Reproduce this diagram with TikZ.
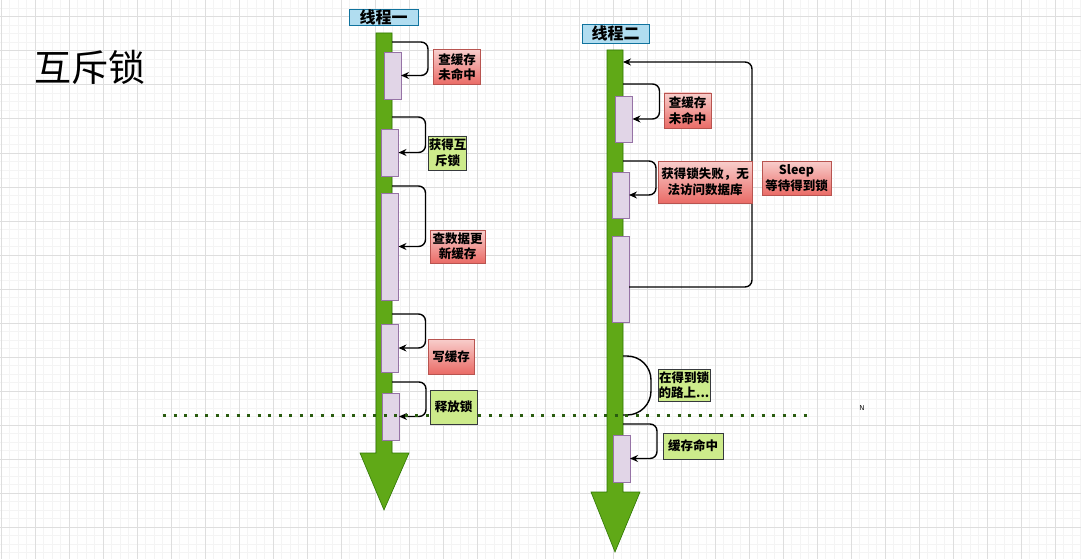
\documentclass[tikz,border=0pt]{standalone}
\usepackage{fontspec}
\newfontfamily\cjk{Noto Sans CJK SC}
\usetikzlibrary{arrows.meta}
\definecolor{gridmaj}{rgb}{0.87,0.87,0.87}
\definecolor{gridmin}{rgb}{0.955,0.955,0.955}
\definecolor{barfill}{HTML}{60A917}
\definecolor{barline}{HTML}{2D7600}
\definecolor{actfill}{HTML}{E1D5E7}
\definecolor{actline}{HTML}{9673A6}
\definecolor{redtop}{HTML}{F8CECC}
\definecolor{redbot}{HTML}{EA6B66}
\definecolor{redline}{HTML}{B85450}
\definecolor{greenfill}{HTML}{CDEB8B}
\definecolor{greenline}{HTML}{36393D}
\definecolor{bluefill}{HTML}{B1DDF0}
\definecolor{blueline}{HTML}{10739E}
\definecolor{sepcol}{HTML}{2A5C10}

\begin{document}
\begin{tikzpicture}[x=1pt,y=-1pt,>={Stealth[length=8pt,width=7pt]},
    bar/.style={fill=barfill,draw=barline,line width=0.6pt},
    act/.style={draw=actline,fill=actfill,line width=0.8pt,minimum width=17pt,inner sep=0pt,outer sep=0pt},
    note/.style={font=\cjk\bfseries\fontsize{12.5}{15.5}\selectfont,align=center,inner sep=0pt,outer sep=0pt,line width=0.8pt},
    redbox/.style={note,draw=redline,top color=redtop,bottom color=redbot},
    greenbox/.style={note,draw=greenline,fill=greenfill},
    thread/.style={draw=blueline,fill=bluefill,font=\cjk\bfseries\fontsize{16}{16}\selectfont,inner sep=0pt,outer sep=0pt,line width=0.8pt},
    call/.style={->,line width=1.4pt,rounded corners=7pt},
    onway/.style={line width=1.4pt,rounded corners=24pt},
    sep/.style={draw=sepcol,line width=3pt,dash pattern=on 3pt off 7.5pt}
  ]
    \useasboundingbox[fill=white] (0,0) rectangle (1081,559);
    % grid
    \foreach \i in {0,...,127}{
      \draw[gridmin] ({1+\i*8.5},0) -- ({1+\i*8.5},559);
    }
    \foreach \i in {0,...,65}{
      \draw[gridmin] (0,{8.2+\i*8.5}) -- (1081,{8.2+\i*8.5});
    }
    \foreach \i in {0,...,31}{
      \draw[gridmaj] ({1+\i*34},0) -- ({1+\i*34},559);
    }
    \foreach \i in {0,...,15}{
      \draw[gridmaj] (0,{16.7+\i*34}) -- (1081,{16.7+\i*34});
    }

    \node[font=\cjk\fontsize{37}{42}\selectfont] (title) at (90,67) {互斥锁};

    % thread one
    \node[thread,minimum width=69pt,minimum height=16pt] (t1) at (383.5,17) {线程一};
    \path[bar] (376,33) --++ (16,0) --++ (0,420) --++ (17,0) --++ (-25,57) --++ (-24,-57) --++ (16,0) -- cycle;
    \node[act,minimum height=47pt] (a1) at (392.5,75.5) {};
    \node[act,minimum height=47pt] (a2) at (390,152.5) {};
    \node[act,minimum height=107pt] (a3) at (390,246.5) {};
    \node[act,minimum height=48pt] (a4) at (390,348) {};
    \node[act,minimum height=47pt] (a5) at (390.5,416.5) {};
    \coordinate (s1) at (392,42);
    \coordinate (s2) at (392,117);
    \coordinate (s3) at (392,186);
    \coordinate (s4) at (392,314);
    \coordinate (s5) at (392,382);
    \foreach \k in {1,...,5}{
      \draw[call] (s\k) -| ([xshift=27pt]a\k.east) -- (a\k.east);
    }

    % thread two
    \node[thread,minimum width=67pt,minimum height=19pt] (t2) at (615.5,33.5) {线程二};
    \path[bar] (607,50) --++ (16,0) --++ (0,442) --++ (17,0) --++ (-25,60) --++ (-24,-60) --++ (16,0) -- cycle;
    \node[act,minimum height=46pt] (b1) at (624,119) {};
    \node[act,minimum height=46pt] (b2) at (620.5,195) {};
    \node[act,minimum height=86pt] (b3) at (620.5,279) {};
    \node[act,minimum height=47pt] (b4) at (621.5,458.5) {};
    \coordinate (u1) at (623,84);
    \coordinate (u2) at (623,161);
    \coordinate (u4) at (623,424);
    \foreach \k in {1,2,4}{
      \draw[call] (u\k) -| ([xshift=27pt]b\k.east) -- (b\k.east);
    }
    \coordinate (loopS) at (629,287);
    \coordinate (wake) at (623,62);
    \draw[call] (loopS) -| ([xshift=129pt]wake) -- (wake);
    \coordinate (arcS) at (623,356);
    \coordinate (arcE) at (623,415);
    \draw[onway] (arcS) -| ([xshift=28pt]arcE) -- (arcE);

    % divider
    \coordinate (sepL) at (163,415);
    \coordinate (sepR) at (808,415);
    \draw[sep] (sepL) -- (sepR);
    \node[font=\sffamily\fontsize{7}{8}\selectfont] (mark) at (862,408) {N};

    % notes
    \node[redbox,minimum width=47pt,minimum height=35pt] (miss1) at (457,67) {查缓存\\未命中};
    \node[greenbox,minimum width=34pt,minimum height=34pt] (lock1) at (447.5,153) {获得互\\斥锁};
    \node[redbox,minimum width=55pt,minimum height=33pt] (db1) at (457.5,246.5) {查数据更\\新缓存};
    \node[redbox,minimum width=46pt,minimum height=35pt] (write1) at (451,356.5) {写缓存};
    \node[greenbox,minimum width=47pt,minimum height=34pt] (free1) at (453.5,407) {释放锁};
    \node[redbox,minimum width=47pt,minimum height=35pt] (miss2) at (687.5,110.5) {查缓存\\未命中};
    \node[redbox,minimum width=94pt,minimum height=42pt] (fail2) at (705,182) {获得锁失败，无\\法访问数据库};
    \node[redbox,minimum width=69pt,minimum height=34pt] (sleep2) at (796.5,178) {Sleep\\等待得到锁};
    \node[greenbox,minimum width=52pt,minimum height=32pt] (wait2) at (684,385) {在得到锁\\的路上...};
    \node[greenbox,minimum width=60pt,minimum height=26pt] (hit2) at (693,446) {缓存命中};
  \end{tikzpicture}
\end{document}
